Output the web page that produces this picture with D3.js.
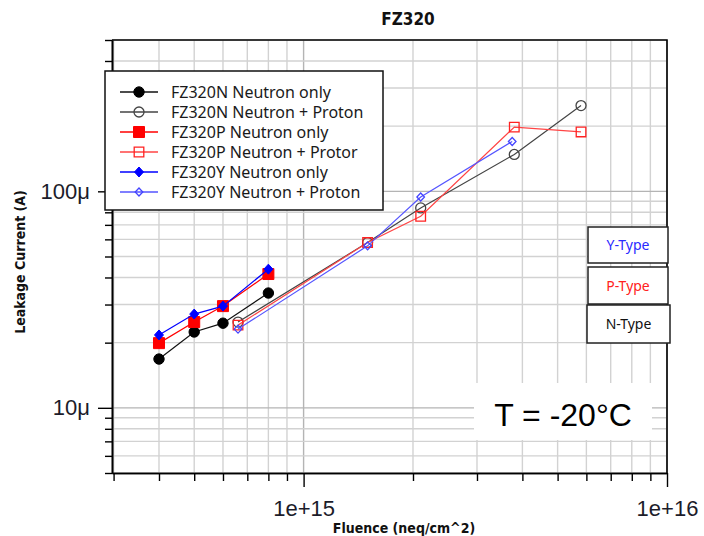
<!DOCTYPE html>
<html>
<head>
<meta charset="utf-8">
<script src="https://cdn.jsdelivr.net/npm/d3@7"></script>
<style>
  body { margin: 0; background: #fff; }
  svg { display: block; }
</style>
</head>
<body>
<div id="chart"></div>
<script>
(function () {
  var width = 704, height = 536;

  // fluence (neq/cm^2) and leakage current (A)
  var fluenceOnly = [4e14, 5e14, 6e14, 8e14];
  var currentNOnly = [16.8e-6, 22.4e-6, 24.6e-6, 33.9e-6];
  var currentPOnly = [19.9e-6, 24.9e-6, 29.5e-6, 41.5e-6];
  var currentYOnly = [21.7e-6, 27.1e-6, 29.5e-6, 43.7e-6];

  var fluenceNP = [6.6e14, 1.5e15, 2.1e15, 3.8e15, 5.8e15];
  var currentNNP = [24.9e-6, 58e-6, 83.8e-6, 148e-6, 249e-6];
  var currentPNP = [24.1e-6, 58e-6, 76.7e-6, 198e-6, 188e-6];
  var fluenceYNP = [6.6e14, 1.5e15, 2.1e15, 3.75e15];
  var currentYNP = [23.1e-6, 56e-6, 94.1e-6, 170e-6];

  var seriesNames = ['FZ320N Neutron only', 'FZ320N Neutron + Proton',
    'FZ320P Neutron only', 'FZ320P Neutron + Protor',
    'FZ320Y Neutron only', 'FZ320Y Neutron + Proton'];

  var xMajor = [1e15, 1e16], xMajorLabels = ['1e+15', '1e+16'];
  var yMajor = [1e-5, 1e-4], yMajorLabels = ['10μ', '100μ'];

  var typeLabels = ['Y-Type', 'P-Type', 'N-Type'];

  var series = [
    {name: seriesNames[0], xs: fluenceOnly, ys: currentNOnly, color: '#000', line: '#111', marker: 'circle', fill: true},
    {name: seriesNames[1], xs: fluenceNP, ys: currentNNP, color: '#444', line: '#444', marker: 'circle', fill: false},
    {name: seriesNames[2], xs: fluenceOnly, ys: currentPOnly, color: '#f00', line: '#f00', marker: 'square', fill: true},
    {name: seriesNames[3], xs: fluenceNP, ys: currentPNP, color: '#f22', line: '#f44', marker: 'square', fill: false},
    {name: seriesNames[4], xs: fluenceOnly, ys: currentYOnly, color: '#00f', line: '#00f', marker: 'diamond', fill: true},
    {name: seriesNames[5], xs: fluenceYNP, ys: currentYNP, color: '#44f', line: '#55f', marker: 'diamond', fill: false}
  ];

  var left = 112, right = 667, top = 40, bottom = 473;

  var x = d3.scaleLog().domain([2.97e14, 1e16]).range([left, right]);
  var y = d3.scaleLog().domain([5e-6, 5e-4]).range([bottom, top]);

  var svg = d3.select('#chart').append('svg')
    .attr('width', width)
    .attr('height', height);

  var isMajor = function (v) { return Math.abs(Math.log10(v) - Math.round(Math.log10(v))) < 1e-9; };

  // grid
  var grid = svg.append('g');
  grid.selectAll('.vg').data(x.ticks()).enter().append('line')
    .attr('x1', function (d) { return x(d); }).attr('x2', function (d) { return x(d); })
    .attr('y1', top).attr('y2', bottom)
    .attr('stroke', function (d) { return isMajor(d) ? '#b4b4b4' : '#d2d2d2'; })
    .attr('stroke-width', 1.4);
  grid.selectAll('.hg').data(y.ticks()).enter().append('line')
    .attr('y1', function (d) { return y(d); }).attr('y2', function (d) { return y(d); })
    .attr('x1', left).attr('x2', right)
    .attr('stroke', function (d) { return isMajor(d) ? '#b4b4b4' : '#d2d2d2'; })
    .attr('stroke-width', 1.4);

  // axes
  var minorX = x.ticks().filter(function (d) { return !isMajor(d); });
  var minorY = y.ticks().filter(function (d) { return !isMajor(d); });

  var xg = svg.append('g').attr('transform', 'translate(0,' + bottom + ')');
  xg.append('g').call(d3.axisBottom(x).tickValues(minorX).tickSize(8).tickSizeOuter(0).tickFormat(''));
  xg.append('g').call(d3.axisBottom(x).tickValues(xMajor).tickSize(14).tickSizeOuter(0).tickPadding(13)
    .tickFormat(function (d, i) { return xMajorLabels[i]; }));

  var yg = svg.append('g').attr('transform', 'translate(' + left + ',0)');
  yg.append('g').call(d3.axisLeft(y).tickValues(minorY).tickSize(7).tickSizeOuter(0).tickFormat(''));
  yg.append('g').call(d3.axisLeft(y).tickValues(yMajor).tickSize(14).tickSizeOuter(0).tickPadding(8)
    .tickFormat(function (d, i) { return yMajorLabels[i]; }));

  svg.selectAll('.domain').attr('stroke', '#000').attr('stroke-width', 1.6);
  svg.selectAll('.tick line').attr('stroke', '#000').attr('stroke-width', 1.4);
  svg.selectAll('.tick text')
    .attr('font-family', '"Liberation Sans", Arial, sans-serif')
    .attr('font-size', 22)
    .attr('fill', '#1c1c2a');

  // top and right frame
  svg.append('path')
    .attr('d', 'M' + left + ',' + top + 'H' + right + 'V' + bottom)
    .attr('fill', 'none').attr('stroke', '#000').attr('stroke-width', 1.6);

  // marker shapes
  function markerPath(kind, fill) {
    if (kind === 'circle') {
      var r = fill ? 5.2 : 5;
      return 'M' + r + ',0A' + r + ',' + r + ' 0 1,1 ' + (-r) + ',0A' + r + ',' + r + ' 0 1,1 ' + r + ',0Z';
    }
    if (kind === 'square') {
      var s = fill ? 5.5 : 4.8;
      return 'M' + (-s) + ',' + (-s) + 'H' + s + 'V' + s + 'H' + (-s) + 'Z';
    }
    var w = fill ? 4.5 : 3.8, h = fill ? 5 : 4;
    return 'M0,' + (-h) + 'L' + w + ',0L0,' + h + 'L' + (-w) + ',0Z';
  }

  function drawMarker(g, s, cx, cy) {
    g.append('path')
      .attr('transform', 'translate(' + cx + ',' + cy + ')')
      .attr('d', markerPath(s.marker, s.fill))
      .attr('fill', s.fill ? s.color : 'none')
      .attr('stroke', s.color)
      .attr('stroke-width', s.fill ? 1 : 1.3);
  }

  var line = d3.line()
    .x(function (d) { return x(d[0]); })
    .y(function (d) { return y(d[1]); });

  var plot = svg.append('g');
  series.forEach(function (s) {
    var pts = s.xs.map(function (v, i) { return [v, s.ys[i]]; });
    var g = plot.append('g');
    g.append('path')
      .attr('d', line(pts))
      .attr('fill', 'none')
      .attr('stroke', s.line)
      .attr('stroke-width', 1.2);
    pts.forEach(function (p) { drawMarker(g, s, x(p[0]), y(p[1])); });
  });

  // legend
  var lg = svg.append('g');
  lg.append('rect')
    .attr('x', 105).attr('y', 71).attr('width', 278).attr('height', 139)
    .attr('fill', '#fff').attr('stroke', '#111').attr('stroke-width', 1.5);
  series.forEach(function (s, i) {
    var ry = 92 + i * 20;
    lg.append('line')
      .attr('x1', 120).attr('x2', 158).attr('y1', ry).attr('y2', ry)
      .attr('stroke', s.line).attr('stroke-width', 1.3);
    drawMarker(lg, s, 139, ry);
    lg.append('text')
      .attr('x', 171).attr('y', ry)
      .attr('dy', '0.36em')
      .attr('font-family', '"Noto Sans", "Open Sans", sans-serif')
      .attr('font-size', 16)
      .attr('fill', '#1a1a1a')
      .text(s.name);
  });

  // type boxes
  var typeColors = ['#2a2aff', '#ff2020', '#111'];
  var typeBoxes = [[588, 227, 80, 36], [588, 267, 80, 37], [587, 305, 83, 38]];
  typeLabels.forEach(function (t, i) {
    var b = typeBoxes[i];
    svg.append('rect')
      .attr('x', b[0]).attr('y', b[1]).attr('width', b[2]).attr('height', b[3])
      .attr('fill', '#fff').attr('stroke', '#222').attr('stroke-width', 1.5);
    svg.append('text')
      .attr('x', b[0] + b[2] / 2).attr('y', b[1] + b[3] / 2)
      .attr('dy', '0.36em')
      .attr('text-anchor', 'middle')
      .attr('font-family', '"Noto Sans", "Open Sans", sans-serif')
      .attr('font-size', 14)
      .attr('fill', typeColors[i])
      .text(t);
  });

  // temperature note
  svg.append('rect')
    .attr('x', 474).attr('y', 383).attr('width', 178).attr('height', 57)
    .attr('fill', '#fff');
  svg.append('text')
    .attr('x', 563).attr('y', 426)
    .attr('text-anchor', 'middle')
    .attr('font-family', '"Liberation Sans", Arial, sans-serif')
    .attr('font-size', 32)
    .attr('fill', '#000')
    .text('T = -20°C');

  // titles
  var condensed = '"DejaVu Sans Condensed", "DejaVu Sans", sans-serif';
  svg.append('text')
    .attr('x', 408).attr('y', 25)
    .attr('text-anchor', 'middle')
    .attr('font-family', condensed)
    .attr('font-weight', 'bold')
    .attr('font-stretch', 'condensed')
    .attr('font-size', 17)
    .attr('fill', '#111')
    .text('FZ320');
  svg.append('text')
    .attr('x', 404).attr('y', 533)
    .attr('text-anchor', 'middle')
    .attr('font-family', condensed)
    .attr('font-weight', 'bold')
    .attr('font-stretch', 'condensed')
    .attr('font-size', 14)
    .attr('fill', '#111')
    .text('Fluence (neq/cm^2)');
  svg.append('text')
    .attr('transform', 'translate(25,262) rotate(-90)')
    .attr('text-anchor', 'middle')
    .attr('font-family', condensed)
    .attr('font-weight', 'bold')
    .attr('font-stretch', 'condensed')
    .attr('font-size', 14)
    .attr('fill', '#111')
    .text('Leakage Current (A)');
})();
</script>
</body>
</html>
